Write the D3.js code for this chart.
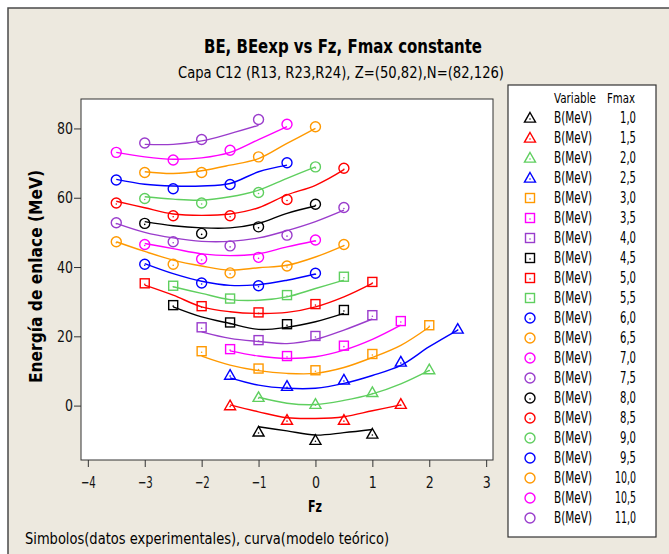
<!DOCTYPE html>
<html>
<head>
<meta charset="utf-8">
<script src="https://cdn.jsdelivr.net/npm/d3@7"></script>
<style>
  body { margin: 0; background: #fff; }
  svg text { font-family: "DejaVu Sans", sans-serif; font-stretch: condensed; }
</style>
</head>
<body>
<div id="chart"></div>
<script>
// chart size
const width = 669;
const height = 554;

// Fmax of each series (legend labels)
const fmaxLabels = ['1,0', '1,5', '2,0', '2,5', '3,0', '3,5', '4,0', '4,5', '5,0', '5,5', '6,0',
  '6,5', '7,0', '7,5', '8,0', '8,5', '9,0', '9,5', '10,0', '10,5', '11,0'];

// experimental points (symbols)
const expFz = [
  [-1, 0, 1],
  [-1.5, -0.5, 0.5, 1.5],
  [-1, 0, 1, 2],
  [-1.5, -0.5, 0.5, 1.5, 2.5],
  [-2, -1, 0, 1, 2],
  [-1.5, -0.5, 0.5, 1.5],
  [-2, -1, 0, 1],
  [-2.5, -1.5, -0.5, 0.5],
  [-3, -2, -1, 0, 1],
  [-2.5, -1.5, -0.5, 0.5],
  [-3, -2, -1, 0],
  [-3.5, -2.5, -1.5, -0.5, 0.5],
  [-3, -2, -1, 0],
  [-3.5, -2.5, -1.5, -0.5, 0.5],
  [-3, -2, -1, 0],
  [-3.5, -2.5, -1.5, -0.5, 0.5],
  [-3, -2, -1, 0],
  [-3.5, -2.5, -1.5, -0.5],
  [-3, -2, -1, 0],
  [-3.5, -2.5, -1.5, -0.5],
  [-3, -2, -1]
];
const expBE = [
  [-7.6, -10.0, -8.2],
  [0.0, -4.2, -4.2, 0.4],
  [2.4, 0.4, 3.8, 10.4],
  [8.8, 5.6, 7.4, 12.6, 22.1],
  [15.7, 10.7, 10.2, 14.9, 23.2],
  [16.3, 14.3, 17.3, 24.4],
  [22.6, 18.9, 20.1, 26.1],
  [29.0, 24.0, 23.5, 27.6],
  [35.3, 28.7, 26.9, 29.3, 35.7],
  [34.6, 30.9, 31.9, 37.2],
  [40.8, 35.4, 34.6, 38.2],
  [47.3, 40.8, 38.3, 40.3, 46.5],
  [46.5, 42.3, 42.8, 47.8],
  [52.8, 47.3, 46.1, 49.2, 57.2],
  [52.6, 49.7, 51.6, 58.1],
  [58.5, 54.8, 54.8, 59.5, 68.5],
  [59.8, 58.5, 61.5, 68.9],
  [65.1, 62.6, 63.8, 70.1],
  [67.3, 67.3, 71.8, 80.5],
  [73.1, 70.9, 73.7, 81.2],
  [75.8, 76.8, 82.6]
];

// theoretical model (curves)
const theoFz = [
  [-1, -0.5, 0, 0.5, 1],
  [-1.5, -1, -0.5, 0, 0.5, 1, 1.5],
  [-1, -0.5, 0, 0.5, 1, 1.5, 2],
  [-1.5, -1, -0.5, 0, 0.5, 1, 1.5, 2, 2.5],
  [-2, -1.5, -1, -0.5, 0, 0.5, 1, 1.5, 2],
  [-1.5, -1, -0.5, 0, 0.5, 1, 1.5],
  [-2, -1.5, -1, -0.5, 0, 0.5, 1],
  [-2.5, -2, -1.5, -1, -0.5, 0, 0.5],
  [-3, -2.5, -2, -1.5, -1, -0.5, 0, 0.5, 1],
  [-2.5, -2, -1.5, -1, -0.5, 0, 0.5],
  [-3, -2.5, -2, -1.5, -1, -0.5, 0],
  [-3.5, -3, -2.5, -2, -1.5, -1, -0.5, 0, 0.5],
  [-3, -2.5, -2, -1.5, -1, -0.5, 0],
  [-3.5, -3, -2.5, -2, -1.5, -1, -0.5, 0, 0.5],
  [-3, -2.5, -2, -1.5, -1, -0.5, 0],
  [-3.5, -3, -2.5, -2, -1.5, -1, -0.5, 0, 0.5],
  [-3, -2.5, -2, -1.5, -1, -0.5, 0],
  [-3.5, -3, -2.5, -2, -1.5, -1, -0.5],
  [-3, -2.5, -2, -1.5, -1, -0.5, 0],
  [-3.5, -3, -2.5, -2, -1.5, -1, -0.5],
  [-3, -2.5, -2, -1.5, -1]
];
const theoBE = [
  [-6.1, -7.3, -8.5, -7.8, -6.9],
  [0.2, -1.8, -3.5, -3.7, -3.2, -1.5, 0.2],
  [2.4, 0.7, 0.3, 1.5, 3.4, 6.3, 10.2],
  [8.0, 5.9, 5.0, 5.0, 6.4, 8.7, 11.6, 17.0, 21.8],
  [14.3, 11.7, 10.1, 9.3, 9.3, 11.0, 13.9, 17.4, 22.7],
  [15.8, 14.3, 13.6, 14.1, 16.0, 19.1, 23.2],
  [21.3, 19.4, 18.5, 17.9, 19.1, 21.8, 25.0],
  [28.5, 25.6, 23.7, 22.0, 22.6, 24.2, 26.6],
  [34.8, 31.9, 28.5, 27.1, 26.6, 26.9, 28.5, 31.4, 35.3],
  [34.3, 32.4, 30.6, 30.4, 31.4, 33.8, 36.2],
  [41.0, 38.1, 35.9, 34.7, 34.9, 36.2, 38.0],
  [47.3, 44.5, 42.0, 40.3, 39.1, 39.8, 40.5, 42.9, 46.2],
  [46.8, 45.3, 43.8, 43.3, 43.8, 45.8, 47.6],
  [52.6, 50.0, 48.4, 47.4, 47.4, 48.4, 50.5, 53.1, 56.4],
  [53.1, 51.9, 51.3, 51.3, 52.6, 55.5, 57.6],
  [59.0, 57.1, 55.3, 54.9, 55.3, 57.1, 60.8, 63.6, 68.1],
  [60.3, 59.6, 59.3, 60.3, 62.2, 65.6, 68.9],
  [65.3, 63.9, 63.4, 63.4, 64.1, 67.5, 69.4],
  [67.5, 67.0, 67.8, 69.4, 71.3, 75.7, 80.0],
  [73.1, 71.8, 71.1, 71.5, 73.1, 76.8, 80.5],
  [75.4, 75.4, 76.4, 78.5, 80.9]
];

// tick labels
const xTicks = [-4, -3, -2, -1, 0, 1, 2, 3];
const yTicks = [0, 20, 40, 60, 80];

// Minitab colour cycle and symbol shapes
const palette = ['#000000', '#ff0000', '#5fcf5f', '#0000ff', '#ff9900', '#ff00ff', '#9a3ccc'];
const colorOf = i => palette[i % 7];
const shapeOf = i => (i < 4 ? 'tri' : i < 10 ? 'sq' : 'circ');

// squeeze text to the width it has in the original (narrow font)
function fit(sel, len) {
  return sel.attr('textLength', len).attr('lengthAdjust', 'spacingAndGlyphs');
}

const svg = d3.select('#chart').append('svg')
  .attr('width', width)
  .attr('height', height);

// outer frame
svg.append('rect')
  .attr('x', 8).attr('y', 8)
  .attr('width', width).attr('height', height)
  .attr('fill', '#ede9df')
  .attr('stroke', '#4a4a4a')
  .attr('stroke-width', 1.5);

// plot area
const plot = { left: 81, right: 493, top: 99, bottom: 460 };
svg.append('rect')
  .attr('x', plot.left).attr('y', plot.top)
  .attr('width', plot.right - plot.left).attr('height', plot.bottom - plot.top)
  .attr('fill', '#fff')
  .attr('stroke', '#333')
  .attr('stroke-width', 1);

const x = d3.scaleLinear().domain([-4.12, 3.12]).range([plot.left, plot.right]);
const y = d3.scaleLinear().domain([-15.7, 88.5]).range([plot.bottom, plot.top]);

// axes
const xAxis = svg.append('g')
  .attr('transform', 'translate(0,' + plot.bottom + ')')
  .call(d3.axisBottom(x).tickValues(xTicks).tickSize(7).tickSizeOuter(0));
const yAxis = svg.append('g')
  .attr('transform', 'translate(' + plot.left + ',0)')
  .call(d3.axisLeft(y).tickValues(yTicks).tickSize(7).tickSizeOuter(0));
[xAxis, yAxis].forEach(g => {
  g.select('.domain').remove();
  g.selectAll('line').attr('stroke', '#333');
  g.selectAll('text').attr('fill', '#111').style('font-size', '16px')
    .style('font-family', '"DejaVu Sans", sans-serif');
});
xAxis.selectAll('text').attr('dy', '1.1em');
yAxis.selectAll('text').attr('x', -8);
xAxis.selectAll('text').each(function () { fit(d3.select(this), this.textContent.length > 1 ? 15 : 8); });
yAxis.selectAll('text').each(function () { fit(d3.select(this), this.textContent.length > 1 ? 16 : 8); });

// symbol drawing
function drawSymbol(g, shape, cx, cy, color, dot) {
  if (shape === 'tri') {
    const s = 5.5;
    g.append('path')
      .attr('d', `M${cx},${cy - s} L${cx + s},${cy + s * 0.75} L${cx - s},${cy + s * 0.75} Z`)
      .attr('fill', 'none').attr('stroke', color).attr('stroke-width', 1.4);
  } else if (shape === 'sq') {
    g.append('rect')
      .attr('x', cx - 4.5).attr('y', cy - 4.5).attr('width', 9).attr('height', 9)
      .attr('fill', 'none').attr('stroke', color).attr('stroke-width', 1.4);
  } else {
    g.append('circle')
      .attr('cx', cx).attr('cy', cy).attr('r', 5)
      .attr('fill', 'none').attr('stroke', color).attr('stroke-width', 1.4);
  }
  if (dot) {
    g.append('circle').attr('cx', cx).attr('cy', cy + 1).attr('r', 0.8).attr('fill', color);
  }
}

// curves and symbols
const line = d3.line()
  .x(d => x(d[0]))
  .y(d => y(d[1]))
  .curve(d3.curveCatmullRom.alpha(0.5));

const series = svg.append('g');
fmaxLabels.forEach((lab, i) => {
  const pts = theoFz[i].map((f, j) => [f, theoBE[i][j]]);
  series.append('path')
    .attr('d', line(pts))
    .attr('fill', 'none')
    .attr('stroke', colorOf(i))
    .attr('stroke-width', 1.4);
});
fmaxLabels.forEach((lab, i) => {
  expFz[i].forEach((f, j) => {
    drawSymbol(series, shapeOf(i), x(f), y(expBE[i][j]), colorOf(i), i < 17);
  });
});

// titles
fit(svg.append('text')
  .attr('x', 204).attr('y', 53)
  .style('font-size', '19px').style('font-weight', 'bold')
  .text('BE, BEexp vs Fz, Fmax constante'), 278);
fit(svg.append('text')
  .attr('x', 178).attr('y', 78)
  .style('font-size', '16px')
  .text('Capa C12 (R13, R23,R24), Z=(50,82),N=(82,126)'), 326);

fit(svg.append('text')
  .attr('transform', 'translate(42,383) rotate(-90)')
  .style('font-size', '18px').style('font-weight', 'bold')
  .text('Energía de enlace (MeV)'), 213);

fit(svg.append('text')
  .attr('x', 308).attr('y', 512)
  .style('font-size', '16px').style('font-weight', 'bold')
  .text('Fz'), 14);

fit(svg.append('text')
  .attr('x', 25).attr('y', 544)
  .style('font-size', '16px')
  .text('Simbolos(datos experimentales), curva(modelo teórico)'), 364);

// legend
const legend = svg.append('g');
legend.append('rect')
  .attr('x', 508).attr('y', 85).attr('width', 148).attr('height', 452)
  .attr('fill', '#fff').attr('stroke', '#333').attr('stroke-width', 1.2);
fit(legend.append('text').attr('x', 554).attr('y', 103).style('font-size', '14px').text('Variable'), 42);
fit(legend.append('text').attr('x', 607).attr('y', 103).style('font-size', '14px').text('Fmax'), 28);
fmaxLabels.forEach((lab, i) => {
  const cy = 118 + i * 20;
  drawSymbol(legend, shapeOf(i), 530, cy, colorOf(i), i < 17);
  fit(legend.append('text').attr('x', 554).attr('y', cy + 5).style('font-size', '15px').text('B(MeV)'), 38);
  const w = lab.length > 3 ? 21 : 16;
  fit(legend.append('text').attr('x', 636 - w).attr('y', cy + 5)
    .style('font-size', '15px').text(lab), w);
});
</script>
</body>
</html>
